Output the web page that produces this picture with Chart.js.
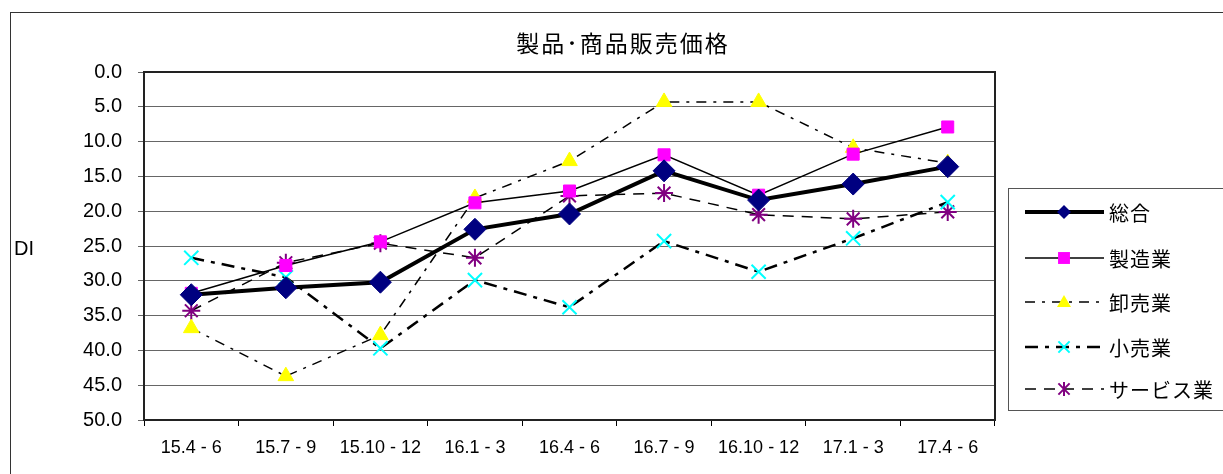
<!DOCTYPE html>
<html>
<head>
<meta charset="utf-8">
<script src="https://cdn.jsdelivr.net/npm/chart.js@4"></script>
<style>
  body { margin: 0; background: #fff; }
  #wrap { width: 1223px; height: 474px; }
</style>
</head>
<body>
<div id="wrap"><canvas id="grafico" width="1223" height="474"></canvas></div>
<script>
const periodos = ['15.4 - 6', '15.7 - 9', '15.10 - 12', '16.1 - 3', '16.4 - 6', '16.7 - 9', '16.10 - 12', '17.1 - 3', '17.4 - 6'];

const sogo      = [32.0, 31.0, 30.2, 22.6, 20.4, 14.2, 18.4, 16.1, 13.6];
const seizo     = [31.8, 27.8, 24.4, 18.8, 17.1, 11.9, 17.7, 11.8, 7.9];
const oroshi    = [36.8, 43.7, 37.8, 18.1, 12.8, 4.3, 4.3, 10.9, 13.1];
const kouri     = [26.7, 29.5, 39.7, 29.9, 33.8, 24.3, 28.7, 23.9, 18.7];
const service   = [34.3, 27.4, 24.6, 26.7, 17.8, 17.4, 20.5, 21.1, 20.1];

const fonteJp = '"Noto Sans CJK JP", "Noto Sans", sans-serif';
const fonteNum = '"Liberation Sans", Arial, sans-serif';

const series = [
    { label: '総合', data: sogo, borderWidth: 4, borderDash: [], pointStyle: 'rectRot', pointRadius: 11, cor: '#000080', pw: 1 },
    { label: '製造業', data: seizo, borderWidth: 1.5, borderDash: [], pointStyle: 'rect', pointRadius: 8.5, cor: '#ff00ff', pw: 1 },
    { label: '卸売業', data: oroshi, borderWidth: 1.5, borderDash: [10, 7, 3, 7], pointStyle: 'triangle', pointRadius: 9, cor: '#ffff00', pw: 1 },
    { label: '小売業', data: kouri, borderWidth: 2.5, borderDash: [13, 7, 4, 7], pointStyle: 'crossRot', pointRadius: 10, cor: '#00ffff', pw: 2 },
    { label: 'サービス業', data: service, borderWidth: 1.5, borderDash: [11, 8], pointStyle: 'star', pointRadius: 9, cor: '#800080', pw: 2 }
];

// moldura, titulo, legenda e rotulo DI
const extras = {
    id: 'extras',
    beforeDraw(chart) {
        const ctx = chart.ctx;
        ctx.save();
        ctx.fillStyle = '#fff';
        ctx.fillRect(0, 0, chart.width, chart.height);
        ctx.strokeStyle = '#333';
        ctx.lineWidth = 1;
        ctx.strokeRect(10.5, 12.5, 1400, 600);
        ctx.restore();
    },
    afterDraw(chart) {
        const ctx = chart.ctx;
        const a = chart.chartArea;
        ctx.save();
        ctx.strokeStyle = '#222';
        ctx.lineWidth = 2;
        ctx.strokeRect(a.left, a.top, a.right - a.left, a.bottom - a.top);

        ctx.fillStyle = '#000';
        ctx.font = '23px ' + fonteJp;
        ctx.letterSpacing = '2px';
        ctx.textAlign = 'center';
        ctx.textBaseline = 'middle';
        ctx.fillText('製品･商品販売価格', 623, 43);

        ctx.letterSpacing = '0px';
        ctx.font = '20px ' + fonteNum;
        ctx.textAlign = 'left';
        ctx.fillText('DI', 14, 249);

        // legenda
        ctx.strokeStyle = '#555';
        ctx.lineWidth = 1;
        ctx.strokeRect(1008.5, 188.5, 300, 222);
        const linhas = [212, 258, 302, 347, 389];
        chart.data.datasets.forEach((ds, i) => {
            const y = linhas[i];
            ctx.save();
            ctx.strokeStyle = '#000';
            ctx.lineWidth = ds.borderWidth;
            ctx.setLineDash(ds.borderDash);
            ctx.beginPath();
            ctx.moveTo(1025, y);
            ctx.lineTo(1104, y);
            ctx.stroke();
            ctx.restore();
            ctx.fillStyle = ds.pointBackgroundColor;
            ctx.strokeStyle = ds.pointBorderColor;
            ctx.lineWidth = ds.pointBorderWidth;
            ctx.setLineDash([]);
            desenharPonto(ctx, ds.pointStyle, 7, 1064, y);
            ctx.fillStyle = '#000';
            ctx.font = '20px ' + fonteJp;
            ctx.letterSpacing = '1px';
            ctx.textBaseline = 'middle';
            ctx.fillText(ds.label, 1109, y + 1);
            ctx.letterSpacing = '0px';
        });
        ctx.restore();
    }
};

function desenharPonto(ctx, estilo, r, x, y) {
    ctx.beginPath();
    if (estilo === 'rectRot') {
        ctx.moveTo(x, y - r); ctx.lineTo(x + r, y); ctx.lineTo(x, y + r); ctx.lineTo(x - r, y); ctx.closePath();
        ctx.fill();
    } else if (estilo === 'rect') {
        ctx.rect(x - r * 0.85, y - r * 0.85, r * 1.7, r * 1.7);
        ctx.fill();
    } else if (estilo === 'triangle') {
        ctx.moveTo(x, y - r); ctx.lineTo(x + r * 1.0, y + r * 0.7); ctx.lineTo(x - r * 1.0, y + r * 0.7); ctx.closePath();
        ctx.fill();
    } else if (estilo === 'crossRot') {
        ctx.moveTo(x - r * 0.8, y - r * 0.8); ctx.lineTo(x + r * 0.8, y + r * 0.8);
        ctx.moveTo(x + r * 0.8, y - r * 0.8); ctx.lineTo(x - r * 0.8, y + r * 0.8);
        ctx.stroke();
    } else if (estilo === 'star') {
        ctx.moveTo(x, y - r); ctx.lineTo(x, y + r);
        ctx.moveTo(x - r * 0.8, y - r * 0.8); ctx.lineTo(x + r * 0.8, y + r * 0.8);
        ctx.moveTo(x + r * 0.8, y - r * 0.8); ctx.lineTo(x - r * 0.8, y + r * 0.8);
        ctx.stroke();
    }
}

const ctx = document.getElementById('grafico');
new Chart(ctx, {
    type: 'line',
    data: {
        labels: periodos,
        datasets: series.map(s => ({
            label: s.label,
            data: s.data,
            borderColor: '#000',
            borderWidth: s.borderWidth,
            borderDash: s.borderDash,
            pointStyle: s.pointStyle,
            pointRadius: s.pointRadius,
            pointBackgroundColor: s.cor,
            pointBorderColor: s.cor,
            pointBorderWidth: s.pw,
            fill: false,
            tension: 0
        }))
    },
    options: {
        responsive: false,
        animation: false,
        events: [],
        layout: { padding: { left: 0, top: 72, right: 228, bottom: 0 } },
        plugins: {
            legend: { display: false },
            title: { display: false },
            tooltip: { enabled: false }
        },
        scales: {
            x: {
                offset: true,
                grid: { offset: true, drawOnChartArea: false, drawTicks: true, tickLength: 6, color: '#000' },
                border: { color: '#000', width: 2 },
                ticks: { color: '#000', font: { size: 18, family: fonteNum }, padding: 11, maxRotation: 0 },
                afterFit(scale) { scale.height = 54; }
            },
            y: {
                reverse: true,
                min: 0,
                max: 50,
                grid: { color: '#666', lineWidth: 1, tickLength: 6 },
                border: { color: '#000', width: 2 },
                ticks: {
                    stepSize: 5,
                    color: '#000',
                    font: { size: 20, family: fonteNum },
                    padding: 16,
                    callback: v => v.toFixed(1)
                },
                afterFit(scale) { scale.width = 144; }
            }
        }
    },
    plugins: [extras]
});
</script>
</body>
</html>
